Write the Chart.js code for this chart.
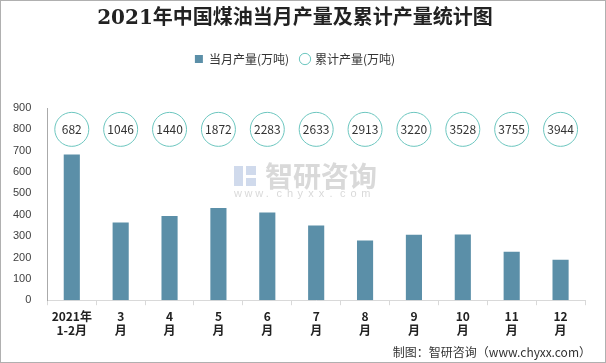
<!DOCTYPE html>
<html>
<head>
<meta charset="utf-8">
<script src="https://cdn.jsdelivr.net/npm/chart.js@4/dist/chart.umd.min.js"></script>
<style>
  html, body { margin: 0; padding: 0; background: #fff; }
  #wrap { width: 606px; height: 363px; box-sizing: border-box; border: 1px solid #b0b0b0; }
  canvas { display: block; }
</style>
</head>
<body>
<div id="wrap"><canvas id="chart" width="604" height="361"></canvas></div>
<script>
// Categories (two-line labels)
const MONTHS = [
  ['2021年', '1-2月'], ['3', '月'], ['4', '月'], ['5', '月'], ['6', '月'], ['7', '月'],
  ['8', '月'], ['9', '月'], ['10', '月'], ['11', '月'], ['12', '月']
];
// 当月产量(万吨)
const MONTHLY = [682, 364, 394, 432, 411, 350, 280, 307, 308, 227, 189];
// 累计产量(万吨)
const CUMULATIVE = [682, 1046, 1440, 1872, 2283, 2633, 2913, 3220, 3528, 3755, 3944];
// height (in y units) where the cumulative circles sit
const BUBBLE_LEVEL = 800;

const FONT = "'Liberation Sans', 'Noto Sans CJK SC', sans-serif";
const CJK = "'Noto Sans CJK SC', sans-serif";
const TITLE_FONT = "'DejaVu Serif', 'Noto Sans CJK SC', serif";

// push the plot area down below the legend
const legendMargin = {
  id: 'legendMargin',
  beforeInit(chart) {
    const fit = chart.legend.fit;
    chart.legend.fit = function () {
      fit.bind(chart.legend)();
      this.height += 33;
    };
  }
};

// numbers inside circles, watermark, footer
const extras = {
  id: 'extras',
  beforeDatasetsDraw(chart) {
    const ctx = chart.ctx;
    ctx.save();
    ctx.fillStyle = 'rgba(170,170,170,0.45)';
    ctx.font = "bold 28px " + CJK;
    ctx.textAlign = 'left';
    ctx.textBaseline = 'middle';
    ctx.fillText('智研咨询', 264, 175);
    ctx.font = "11px " + FONT;
    const s = 'www.chyxx.com'.split('');
    s.forEach((c, i) => ctx.fillText(c, 233 + i * 10.6, 193));
    ctx.fillStyle = 'rgba(120,150,200,0.35)';
    ctx.fillRect(233, 165, 9, 20);
    ctx.fillRect(245, 165, 10, 9);
    ctx.fillRect(245, 177, 10, 8);
    ctx.restore();
  },
  afterDatasetsDraw(chart) {
    const ctx = chart.ctx;
    const meta = chart.getDatasetMeta(1);
    ctx.save();
    ctx.font = "12px " + CJK;
    ctx.fillStyle = '#333';
    ctx.textAlign = 'center';
    ctx.textBaseline = 'middle';
    meta.data.forEach((pt, i) => {
      ctx.fillText(String(CUMULATIVE[i]), pt.x, pt.y);
    });
    ctx.font = "12px " + CJK;
    ctx.textAlign = 'right';
    ctx.fillText('制图：智研咨询（www.chyxx.com）', 590, 351);
    ctx.restore();
  }
};

new Chart(document.getElementById('chart'), {
  data: {
    labels: MONTHS,
    datasets: [
      {
        type: 'bar',
        label: '当月产量(万吨)',
        data: MONTHLY,
        backgroundColor: '#5b8fa8',
        barPercentage: 0.33,
        categoryPercentage: 1,
        pointStyle: 'rect',
        order: 2
      },
      {
        type: 'line',
        label: '累计产量(万吨)',
        data: CUMULATIVE.map(() => BUBBLE_LEVEL),
        showLine: false,
        pointRadius: 17,
        pointHoverRadius: 17,
        pointBackgroundColor: '#fff',
        pointBorderColor: '#6cc6bf',
        pointBorderWidth: 1,
        backgroundColor: '#fff',
        borderColor: '#6cc6bf',
        borderWidth: 1,
        pointStyle: 'circle',
        order: 1
      }
    ]
  },
  options: {
    responsive: false,
    animation: false,
    layout: { padding: { left: 4, right: 20, top: 4, bottom: 20 } },
    plugins: {
      title: {
        display: true,
        text: '2021年中国煤油当月产量及累计产量统计图',
        color: '#222',
        font: { family: TITLE_FONT, size: 20, weight: 'bold' },
        padding: { top: 2, bottom: 10 }
      },
      legend: {
        labels: {
          usePointStyle: true,
          boxWidth: 8,
          boxHeight: 8,
          padding: 12,
          color: '#333',
          font: { family: CJK, size: 12 },
          sort: (a, b) => a.datasetIndex - b.datasetIndex
        }
      },
      tooltip: { enabled: false }
    },
    scales: {
      x: {
        grid: {
          display: true,
          offset: true,
          drawOnChartArea: false,
          drawTicks: true,
          tickLength: 5,
          color: '#d9d9d9'
        },
        border: { color: '#d9d9d9' },
        ticks: {
          color: '#222',
          font: { family: CJK, size: 12, weight: 'bold' },
          maxRotation: 0,
          padding: 4
        }
      },
      y: {
        min: 0,
        max: 900,
        grid: { display: false },
        border: { display: true, color: '#aaa' },
        ticks: {
          stepSize: 100,
          color: '#404040',
          font: { family: FONT, size: 11 },
          padding: 8
        }
      }
    }
  },
  plugins: [legendMargin, extras]
});
</script>
</body>
</html>
